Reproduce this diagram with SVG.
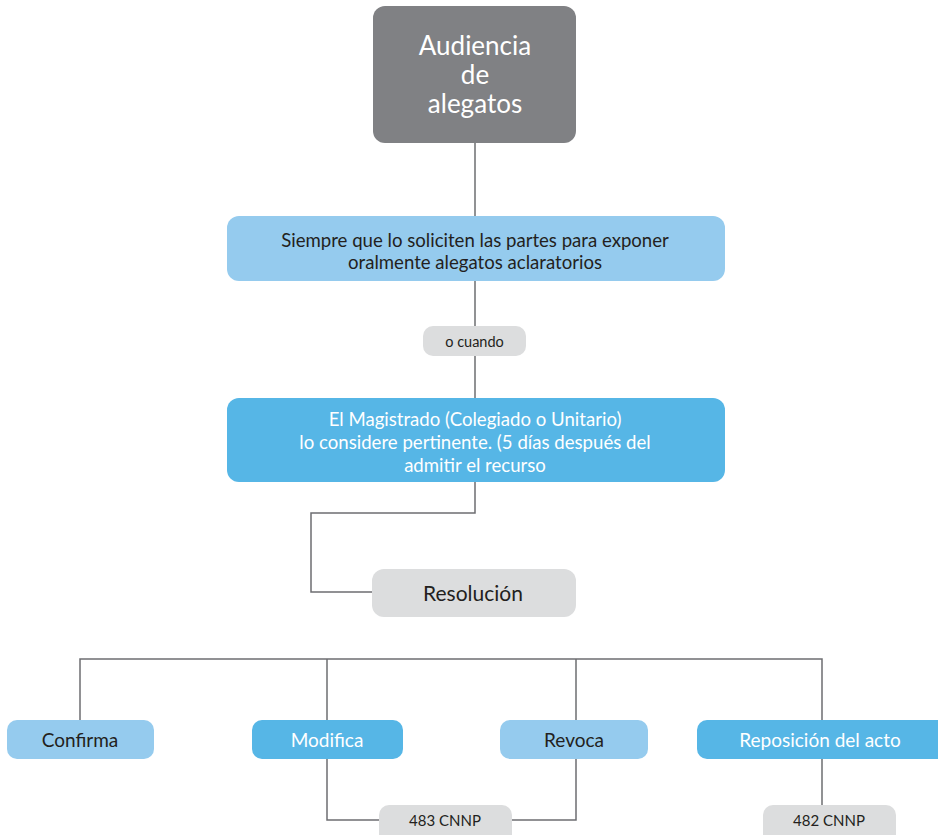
<svg xmlns="http://www.w3.org/2000/svg" width="938" height="835" viewBox="0 0 938 835">
<style>
.ln{fill:none;stroke:#6d6e71;stroke-width:1.5}
.t{font-family:Lato,"Open Sans","Liberation Sans",sans-serif;text-anchor:middle}
.dk{fill:#231f20}
.wh{fill:#ffffff}
.lb{fill:#95cbee}
.db{fill:#56b6e6}
.gr{fill:#dcddde}
</style>
<rect width="938" height="835" fill="#ffffff"/>
<g id="connectors">
<path class="ln" d="M475 143V216"/>
<path class="ln" d="M475 281V326"/>
<path class="ln" d="M475 356V398"/>
<path class="ln" d="M475 482V513H311V592H372"/>
<path class="ln" d="M80 720V659H822V720"/>
<path class="ln" d="M327 659V720"/>
<path class="ln" d="M576 659V720"/>
<path class="ln" d="M327 759V820H380"/>
<path class="ln" d="M576 759V820H512"/>
<path class="ln" d="M822 759V805"/>
</g>
<g id="audiencia">
<rect x="373" y="6" width="203" height="137" rx="12" fill="#808184"/>
<text class="t wh" x="475" y="55" font-size="26">Audiencia</text>
<text class="t wh" x="475" y="84" font-size="26">de</text>
<text class="t wh" x="475" y="113" font-size="26">alegatos</text>
</g>
<g id="siempre">
<rect x="227" y="216" width="498" height="65" rx="12" class="lb"/>
<text class="t dk" x="475" y="247" font-size="18.6">Siempre que lo soliciten las partes para exponer</text>
<text class="t dk" x="475" y="269" font-size="18.6">oralmente alegatos aclaratorios</text>
</g>
<g id="ocuando">
<rect x="423" y="326" width="103" height="30" rx="10" class="gr"/>
<text class="t dk" x="474.5" y="347" font-size="14.5">o cuando</text>
</g>
<g id="magistrado">
<rect x="227" y="398" width="498" height="84" rx="12" class="db"/>
<text class="t wh" x="475" y="426" font-size="18.6">El Magistrado (Colegiado o Unitario)</text>
<text class="t wh" x="475" y="449" font-size="18.6">lo considere pertinente. (5 días después del</text>
<text class="t wh" x="475" y="472" font-size="18.6">admitir el recurso</text>
</g>
<g id="resolucion">
<rect x="372" y="569" width="204" height="48" rx="12" class="gr"/>
<text class="t dk" x="473" y="601" font-size="21">Resolución</text>
</g>
<g id="confirma">
<rect x="7" y="720" width="147" height="39" rx="10" class="lb"/>
<text class="t dk" x="80" y="747" font-size="19">Confirma</text>
</g>
<g id="modifica">
<rect x="252" y="720" width="151" height="39" rx="10" class="db"/>
<text class="t wh" x="327" y="747" font-size="19">Modifica</text>
</g>
<g id="revoca">
<rect x="500" y="720" width="148" height="39" rx="10" class="lb"/>
<text class="t dk" x="574" y="747" font-size="19">Revoca</text>
</g>
<g id="reposicion">
<rect x="697" y="720" width="251" height="39" rx="10" class="db"/>
<text class="t wh" x="820" y="747" font-size="19">Reposición del acto</text>
</g>
<g id="cnnp483">
<rect x="379" y="805" width="133" height="40" rx="10" class="gr"/>
<text class="t dk" x="445" y="826" font-size="15">483 CNNP</text>
</g>
<g id="cnnp482">
<rect x="763" y="805" width="133" height="40" rx="10" class="gr"/>
<text class="t dk" x="829" y="826" font-size="15">482 CNNP</text>
</g>
</svg>
